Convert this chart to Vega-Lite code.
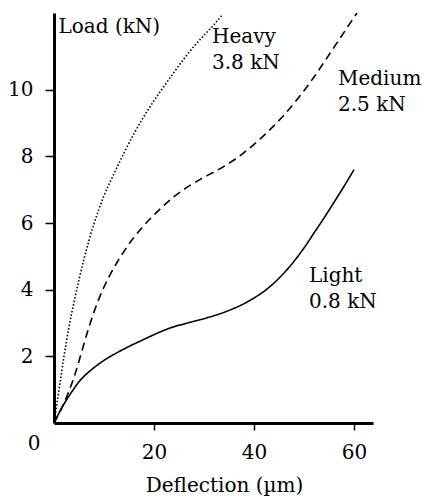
{
  "$schema": "https://vega.github.io/schema/vega-lite/v6.json",
  "width": 319,
  "height": 410,
  "autosize": "none",
  "padding": {"left": 54, "top": 13, "right": 51, "bottom": 73},
  "background": "white",
  "config": {
    "view": {"stroke": null},
    "font": "DejaVu Serif",
    "axis": {
      "grid": false,
      "domainColor": "black",
      "domainWidth": 3,
      "tickColor": "black",
      "tickWidth": 1.5,
      "labelColor": "black",
      "titleColor": "black",
      "labelFont": "DejaVu Serif",
      "titleFont": "DejaVu Serif",
      "labelFontSize": 20,
      "titleFontSize": 20,
      "titleFontWeight": "normal"
    }
  },
  "datasets": {
    "curves": [
      {"series": "Light", "d": 0, "load": 0},
      {"series": "Light", "d": 1, "load": 0.3},
      {"series": "Light", "d": 2, "load": 0.57},
      {"series": "Light", "d": 3, "load": 0.81},
      {"series": "Light", "d": 4, "load": 1.03},
      {"series": "Light", "d": 5, "load": 1.24},
      {"series": "Light", "d": 6, "load": 1.4},
      {"series": "Light", "d": 8, "load": 1.66},
      {"series": "Light", "d": 10, "load": 1.88},
      {"series": "Light", "d": 12, "load": 2.06},
      {"series": "Light", "d": 14, "load": 2.22},
      {"series": "Light", "d": 16, "load": 2.37},
      {"series": "Light", "d": 18, "load": 2.51},
      {"series": "Light", "d": 20, "load": 2.65},
      {"series": "Light", "d": 22, "load": 2.78},
      {"series": "Light", "d": 24, "load": 2.89},
      {"series": "Light", "d": 26, "load": 2.97},
      {"series": "Light", "d": 28, "load": 3.05},
      {"series": "Light", "d": 30, "load": 3.13},
      {"series": "Light", "d": 32, "load": 3.22},
      {"series": "Light", "d": 34, "load": 3.32},
      {"series": "Light", "d": 36, "load": 3.44},
      {"series": "Light", "d": 38, "load": 3.58},
      {"series": "Light", "d": 40, "load": 3.75},
      {"series": "Light", "d": 42, "load": 3.95},
      {"series": "Light", "d": 44, "load": 4.2},
      {"series": "Light", "d": 46, "load": 4.5},
      {"series": "Light", "d": 48, "load": 4.85},
      {"series": "Light", "d": 50, "load": 5.25},
      {"series": "Light", "d": 52, "load": 5.7},
      {"series": "Light", "d": 54, "load": 6.15},
      {"series": "Light", "d": 56, "load": 6.62},
      {"series": "Light", "d": 58, "load": 7.1},
      {"series": "Light", "d": 60, "load": 7.6},
      {"series": "Medium", "d": 0, "load": 0},
      {"series": "Medium", "d": 1, "load": 0.28},
      {"series": "Medium", "d": 2, "load": 0.6},
      {"series": "Medium", "d": 3, "load": 0.96},
      {"series": "Medium", "d": 4, "load": 1.37},
      {"series": "Medium", "d": 5, "load": 1.86},
      {"series": "Medium", "d": 6, "load": 2.38},
      {"series": "Medium", "d": 7, "load": 2.88},
      {"series": "Medium", "d": 8, "load": 3.33},
      {"series": "Medium", "d": 9, "load": 3.73},
      {"series": "Medium", "d": 10, "load": 4.08},
      {"series": "Medium", "d": 12, "load": 4.66},
      {"series": "Medium", "d": 14, "load": 5.15},
      {"series": "Medium", "d": 16, "load": 5.57},
      {"series": "Medium", "d": 18, "load": 5.93},
      {"series": "Medium", "d": 20, "load": 6.24},
      {"series": "Medium", "d": 22, "load": 6.53},
      {"series": "Medium", "d": 24, "load": 6.79},
      {"series": "Medium", "d": 26, "load": 7.01},
      {"series": "Medium", "d": 28, "load": 7.2},
      {"series": "Medium", "d": 30, "load": 7.37},
      {"series": "Medium", "d": 32, "load": 7.53},
      {"series": "Medium", "d": 34, "load": 7.7},
      {"series": "Medium", "d": 36, "load": 7.89},
      {"series": "Medium", "d": 38, "load": 8.11},
      {"series": "Medium", "d": 40, "load": 8.36},
      {"series": "Medium", "d": 42, "load": 8.63},
      {"series": "Medium", "d": 44, "load": 8.92},
      {"series": "Medium", "d": 46, "load": 9.24},
      {"series": "Medium", "d": 48, "load": 9.59},
      {"series": "Medium", "d": 50, "load": 9.97},
      {"series": "Medium", "d": 52, "load": 10.38},
      {"series": "Medium", "d": 54, "load": 10.82},
      {"series": "Medium", "d": 56, "load": 11.27},
      {"series": "Medium", "d": 58, "load": 11.72},
      {"series": "Medium", "d": 60.6, "load": 12.3},
      {"series": "Heavy", "d": 0, "load": 0},
      {"series": "Heavy", "d": 1, "load": 1.0},
      {"series": "Heavy", "d": 2, "load": 2.0},
      {"series": "Heavy", "d": 3, "load": 2.88},
      {"series": "Heavy", "d": 4, "load": 3.62},
      {"series": "Heavy", "d": 5, "load": 4.3},
      {"series": "Heavy", "d": 6, "load": 4.92},
      {"series": "Heavy", "d": 7, "load": 5.48},
      {"series": "Heavy", "d": 8, "load": 5.98},
      {"series": "Heavy", "d": 9, "load": 6.42},
      {"series": "Heavy", "d": 10, "load": 6.82},
      {"series": "Heavy", "d": 12, "load": 7.48},
      {"series": "Heavy", "d": 14, "load": 8.1},
      {"series": "Heavy", "d": 16, "load": 8.68},
      {"series": "Heavy", "d": 18, "load": 9.2},
      {"series": "Heavy", "d": 20, "load": 9.67},
      {"series": "Heavy", "d": 22, "load": 10.1},
      {"series": "Heavy", "d": 24, "load": 10.52},
      {"series": "Heavy", "d": 26, "load": 10.93},
      {"series": "Heavy", "d": 28, "load": 11.3},
      {"series": "Heavy", "d": 30, "load": 11.63},
      {"series": "Heavy", "d": 32, "load": 11.95},
      {"series": "Heavy", "d": 33.6, "load": 12.24}
    ],
    "labels": [
      {"series": "Heavy", "d": 31.6, "load": 11.4, "text": ["Heavy", "3.8 kN"]},
      {"series": "Medium", "d": 56.8, "load": 10.14, "text": ["Medium", "2.5 kN"]},
      {"series": "Light", "d": 51, "load": 4.23, "text": ["Light", "0.8 kN"]}
    ],
    "origin": [{"d": 0, "load": 0, "text": "0"}]
  },
  "layer": [
    {
      "data": {"name": "curves"},
      "mark": {"type": "line", "color": "black", "strokeWidth": 1.6, "interpolate": "monotone", "clip": true},
      "encoding": {
        "x": {
          "field": "d", "type": "quantitative",
          "scale": {"domain": [0, 63.8], "nice": false, "zero": false},
          "axis": {
            "values": [20, 40, 60],
            "tickSize": 7,
            "labelPadding": 28,
            "labelBaseline": "alphabetic",
            "title": "Deflection (µm)",
            "titleX": 170,
            "titleY": 68,
            "titleAlign": "center",
            "titleBaseline": "alphabetic",
            "titleAnchor": null
          }
        },
        "y": {
          "field": "load", "type": "quantitative",
          "scale": {"domain": [0, 12.3], "nice": false, "zero": false},
          "axis": {
            "values": [2, 4, 6, 8, 10],
            "tickSize": 9,
            "labelPadding": 12,
            "title": "Load (kN)",
            "titleAngle": 0,
            "titleX": 4,
            "titleY": 19,
            "titleAlign": "left",
            "titleBaseline": "alphabetic",
            "titleAnchor": null
          }
        },
        "detail": {"field": "series"},
        "strokeDash": {
          "field": "series", "type": "nominal",
          "scale": {"domain": ["Light", "Medium", "Heavy"], "range": [[1, 0], [8, 5], [1.5, 2]]},
          "legend": null
        }
      }
    },
    {
      "data": {"name": "labels"},
      "mark": {"type": "text", "align": "left", "baseline": "alphabetic", "fontSize": 20, "lineHeight": 26, "color": "black", "font": "DejaVu Serif"},
      "encoding": {
        "x": {"field": "d", "type": "quantitative"},
        "y": {"field": "load", "type": "quantitative"},
        "text": {"field": "text"}
      }
    },
    {
      "data": {"name": "origin"},
      "mark": {"type": "text", "align": "center", "baseline": "alphabetic", "fontSize": 20, "dx": -20, "dy": 27, "color": "black", "font": "DejaVu Serif"},
      "encoding": {
        "x": {"field": "d", "type": "quantitative"},
        "y": {"field": "load", "type": "quantitative"},
        "text": {"field": "text"}
      }
    }
  ]
}
